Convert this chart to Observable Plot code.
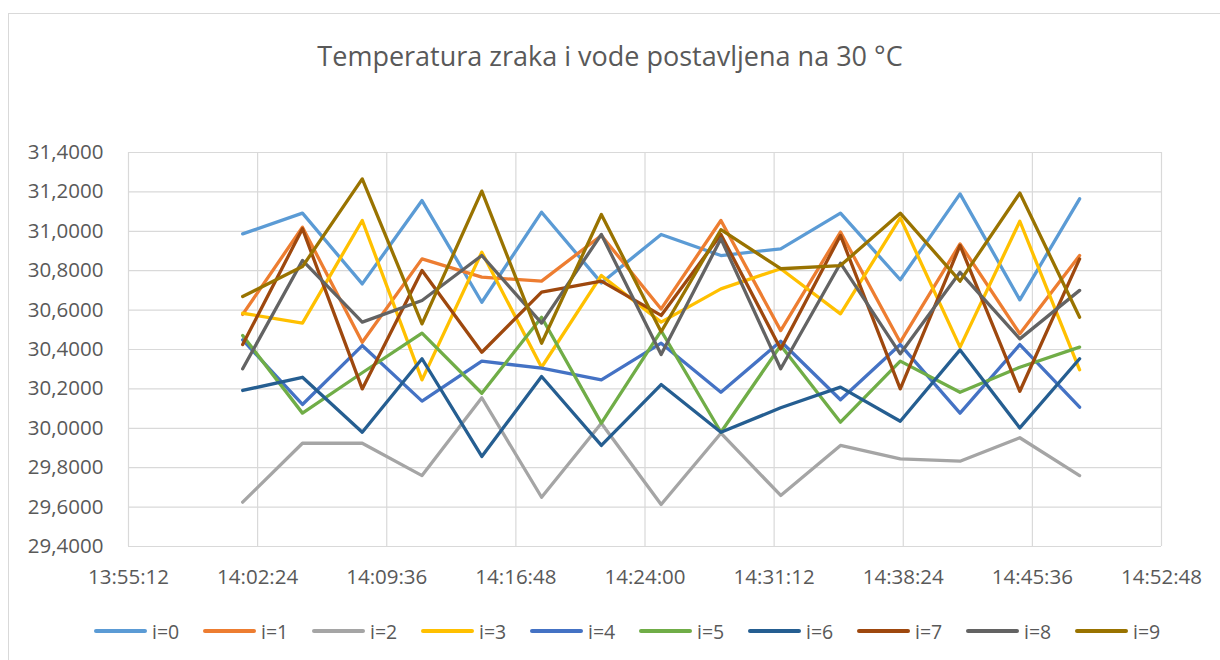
<!DOCTYPE html>
<html>
<head>
<meta charset="utf-8">
<script src="https://cdn.jsdelivr.net/npm/d3@7"></script>
<script src="https://cdn.jsdelivr.net/npm/@observablehq/plot@0.6"></script>
<style>
  html, body { margin: 0; padding: 0; background: #fff; }
  #root { position: relative; width: 1220px; height: 660px; overflow: hidden; font-family: "Open Sans", sans-serif; color: #595959; }
  #frame { position: absolute; left: 8px; top: 13px; width: 1230px; height: 680px; border: 1.5px solid #D9D9D9; box-sizing: border-box; }
  #title { position: absolute; left: 0; width: 1220px; top: 38px; text-align: center; font-size: 27px; line-height: 36px; color: #595959; }
  #chart { position: absolute; left: 0; top: 100px; }
  #legend { position: absolute; left: 94px; top: 618px; height: 26px; display: flex; align-items: center; }
  .item { display: flex; align-items: center; width: 109px; }
  .key { width: 53px; height: 3.4px; border-radius: 2px; margin-right: 5px; }
  .lab { font-size: 19.5px; color: #595959; }
</style>
</head>
<body>
<div id="root">
  <div id="frame"></div>
  <div id="title">Temperatura zraka i vode postavljena na 30 °C</div>
  <div id="chart"></div>
  <div id="legend"></div>
</div>
<script>
const times = ["14:01:34","14:04:54","14:08:14","14:11:34","14:14:54","14:18:14","14:21:34","14:24:54","14:28:14","14:31:34","14:34:54","14:38:14","14:41:34","14:44:54","14:48:14"];
const seriesNames = ["i=0","i=1","i=2","i=3","i=4","i=5","i=6","i=7","i=8","i=9"];
const colors = ["#5B9BD5","#ED7D31","#A5A5A5","#FFC000","#4472C4","#70AD47","#255E91","#9E480E","#636363","#997300"];
const s0 = [30.987, 31.092, 30.733, 31.156, 30.640, 31.097, 30.738, 30.984, 30.877, 30.911, 31.092, 30.754, 31.190, 30.652, 31.165];
const s1 = [30.578, 31.021, 30.437, 30.860, 30.767, 30.747, 30.979, 30.606, 31.055, 30.496, 30.996, 30.437, 30.936, 30.480, 30.877];
const s2 = [29.625, 29.924, 29.924, 29.760, 30.155, 29.650, 30.026, 29.613, 29.975, 29.659, 29.913, 29.845, 29.833, 29.952, 29.760];
const s3 = [30.584, 30.534, 31.055, 30.246, 30.894, 30.310, 30.776, 30.539, 30.708, 30.810, 30.581, 31.068, 30.412, 31.051, 30.297];
const s4 = [30.449, 30.121, 30.420, 30.138, 30.341, 30.305, 30.246, 30.432, 30.183, 30.442, 30.145, 30.425, 30.077, 30.425, 30.107];
const s5 = [30.471, 30.077, 30.282, 30.483, 30.178, 30.564, 30.026, 30.495, 29.980, 30.420, 30.031, 30.341, 30.183, 30.310, 30.412];
const s6 = [30.192, 30.259, 29.980, 30.353, 29.857, 30.263, 29.913, 30.222, 29.980, 30.104, 30.209, 30.036, 30.398, 30.002, 30.353];
const s7 = [30.425, 31.013, 30.200, 30.801, 30.386, 30.691, 30.747, 30.573, 30.984, 30.403, 30.979, 30.200, 30.928, 30.188, 30.860];
const s8 = [30.302, 30.852, 30.539, 30.649, 30.877, 30.534, 30.984, 30.375, 30.962, 30.302, 30.838, 30.378, 30.792, 30.454, 30.700];
const s9 = [30.669, 30.821, 31.266, 30.530, 31.204, 30.432, 31.085, 30.490, 31.008, 30.810, 30.826, 31.092, 30.747, 31.194, 30.564];
const xTickLabels = ["13:55:12","14:02:24","14:09:36","14:16:48","14:24:00","14:31:12","14:38:24","14:45:36","14:52:48"];
const yTicks = [29.4, 29.6, 29.8, 30.0, 30.2, 30.4, 30.6, 30.8, 31.0, 31.2, 31.4];

const toSec = s => { const [h, m, ss] = s.split(":").map(Number); return h * 3600 + m * 60 + ss; };
const fmtTime = v => { v = Math.round(v); const h = Math.floor(v / 3600), m = Math.floor((v % 3600) / 60), s = v % 60; return [h, m, s].map(d => String(d).padStart(2, "0")).join(":"); };
const xTicks = xTickLabels.map(toSec);
const allSeries = [s0, s1, s2, s3, s4, s5, s6, s7, s8, s9];
const data = [];
allSeries.forEach((vals, si) => vals.forEach((v, k) => data.push({ series: seriesNames[si], t: toSec(times[k]), v })));

const chart = Plot.plot({
  width: 1220,
  height: 520,
  marginLeft: 128,
  marginRight: 59,
  marginTop: 52,
  marginBottom: 74,
  style: { fontFamily: "'Open Sans', sans-serif", fontSize: "20.5px", color: "#595959", background: "transparent" },
  x: { domain: [xTicks[0], xTicks[xTicks.length - 1]], ticks: xTicks, tickFormat: fmtTime, tickSize: 0, tickPadding: 23, label: null },
  y: { domain: [29.4, 31.4], ticks: yTicks, tickFormat: d => d.toFixed(4).replace(".", ","), tickSize: 0, tickPadding: 25, label: null },
  color: { domain: seriesNames, range: colors },
  marks: [
    Plot.gridY(yTicks, { stroke: "#D9D9D9", strokeOpacity: 1, strokeWidth: 1.2 }),
    Plot.gridX(xTicks, { stroke: "#D9D9D9", strokeOpacity: 1, strokeWidth: 1.2 }),
    Plot.axisX({ ticks: xTicks, tickFormat: fmtTime, tickSize: 0, tickPadding: 23, fill: "#595959", label: null }),
    Plot.axisY({ ticks: yTicks, tickFormat: d => d.toFixed(4).replace(".", ","), tickSize: 0, tickPadding: 25, fill: "#595959", label: null }),
    Plot.line(data, { x: "t", y: "v", z: "series", stroke: "series", strokeWidth: 3.3, strokeLinejoin: "round", strokeLinecap: "round" })
  ]
});
document.getElementById("chart").appendChild(chart);

const legend = document.getElementById("legend");
seriesNames.forEach((n, i) => {
  const it = document.createElement("div"); it.className = "item";
  const k = document.createElement("div"); k.className = "key"; k.style.background = colors[i];
  const l = document.createElement("span"); l.className = "lab"; l.textContent = n;
  it.appendChild(k); it.appendChild(l); legend.appendChild(it);
});
</script>
</body>
</html>
